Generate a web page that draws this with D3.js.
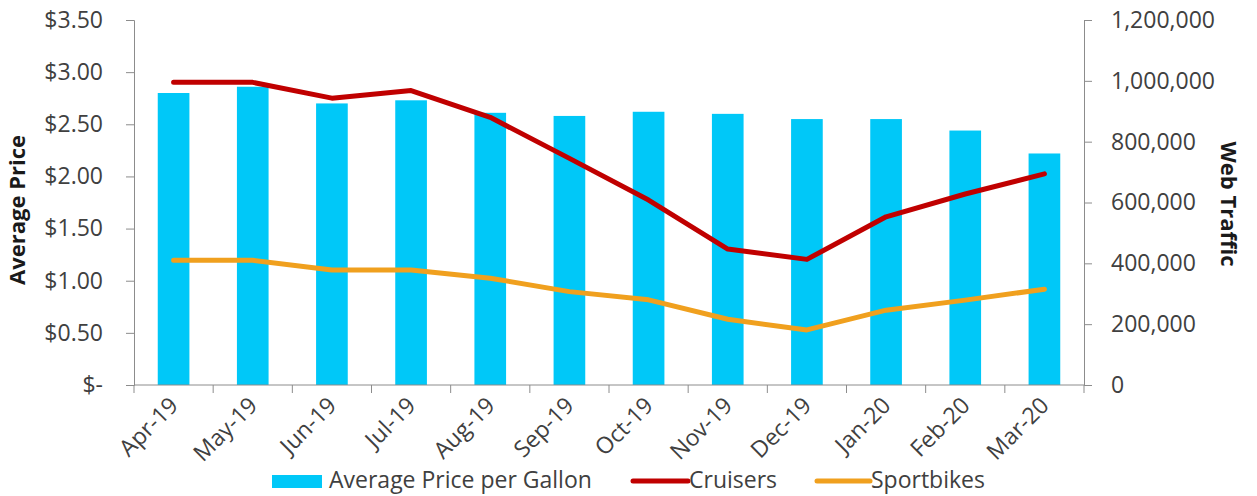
<!DOCTYPE html>
<html><head><meta charset="utf-8">
<script src="https://cdn.jsdelivr.net/npm/d3@7"></script>
<style>body{margin:0;background:#fff;} text{font-family:"Open Sans",Lato,"Liberation Sans",sans-serif;}</style>
</head><body>
<svg id="c" width="1257" height="496"></svg>
<script>
const months = ["Apr-19","May-19","Jun-19","Jul-19","Aug-19","Sep-19","Oct-19","Nov-19","Dec-19","Jan-20","Feb-20","Mar-20"];
const avgPrice = [2.80,2.86,2.70,2.73,2.61,2.58,2.62,2.60,2.55,2.55,2.44,2.22];
const cruisers = [995000,995000,943000,968000,880000,745000,608000,447000,413000,553000,628000,694000];
const sportbikes = [410000,410000,378000,378000,351000,307000,280000,216000,181000,246000,279000,315000];
const priceTicks = [0,0.5,1,1.5,2,2.5,3,3.5];
const trafficTicks = [0,200000,400000,600000,800000,1000000,1200000];
const legendLabels = ["Average Price per Gallon","Cruisers","Sportbikes"];

const colors = {bar:"#00c8f8", cru:"#c00000", spo:"#f0a01e", axis:"#8c8c8c", text:"#404040"};
const svg = d3.select("#c");
const L=134, R=1084, T=20, B=385;
const FS = "23px";

const x = d3.scaleBand().domain(months).range([L,R]).paddingInner(0.6).paddingOuter(0.3);
const yL = d3.scaleLinear().domain([0,3.5]).range([B,T]);
const yR = d3.scaleLinear().domain([0,1200000]).range([B,T]);

// bars
svg.append("g").selectAll("rect").data(months).join("rect")
  .attr("x",d=>x(d)).attr("width",x.bandwidth())
  .attr("y",(d,i)=>yL(avgPrice[i])).attr("height",(d,i)=>B-yL(avgPrice[i]))
  .attr("fill",colors.bar);

// lines
const line = d3.line().x((d,i)=>x(months[i])+x.bandwidth()/2).y(d=>yR(d));
svg.append("path").datum(sportbikes).attr("d",line).attr("fill","none")
  .attr("stroke",colors.spo).attr("stroke-width",5).attr("stroke-linejoin","round").attr("stroke-linecap","round");
svg.append("path").datum(cruisers).attr("d",line).attr("fill","none")
  .attr("stroke",colors.cru).attr("stroke-width",5).attr("stroke-linejoin","round").attr("stroke-linecap","round");

// left axis
const fmtPrice = v => v===0 ? "$-" : "$" + d3.format(".2f")(v);
const gL = svg.append("g").attr("transform",`translate(${L},0)`)
  .call(d3.axisLeft(yL).tickValues(priceTicks).tickFormat(fmtPrice).tickSize(8).tickPadding(23));
// right axis
const gR = svg.append("g").attr("transform",`translate(${R},0)`)
  .call(d3.axisRight(yR).tickValues(trafficTicks).tickFormat(d3.format(",")).tickSize(8).tickPadding(19));
// bottom axis (labels)
const gB = svg.append("g").attr("transform",`translate(0,${B})`)
  .call(d3.axisBottom(x).tickSize(0).tickPadding(0));
gB.select(".domain").remove();
gB.selectAll(".tick text").attr("y",0).attr("dy",0)
  .attr("transform","translate(6,22) rotate(-45)").attr("text-anchor","end");
// x tick marks at band boundaries
svg.append("line").attr("x1",L).attr("x2",R).attr("y1",B).attr("y2",B).attr("stroke",colors.axis);
svg.append("g").selectAll("line").data(d3.range(months.length+1)).join("line")
  .attr("x1",i=>L+i*x.step()).attr("x2",i=>L+i*x.step()).attr("y1",B).attr("y2",B+8).attr("stroke",colors.axis);

[gL,gR,gB].forEach(g=>{
  g.selectAll(".domain,.tick line").attr("stroke",colors.axis);
  g.selectAll(".tick text").attr("fill",colors.text).style("font-size",FS);
});

// axis titles
svg.append("text").attr("transform",`translate(25,210) rotate(-90)`).attr("text-anchor","middle")
  .attr("font-weight","bold").style("font-size","22px").attr("fill","#1a1a1a").text("Average Price");
svg.append("text").attr("transform",`translate(1221,204) rotate(90)`).attr("text-anchor","middle")
  .attr("font-weight","bold").style("font-size","22px").attr("fill","#1a1a1a").text("Web Traffic");

// legend
const lg = svg.append("g").attr("transform","translate(0,481)");
const items = [
  {x:272, w:50, type:"rect", c:colors.bar, label:legendLabels[0], tx:329},
  {x:633, w:55, type:"line", c:colors.cru, label:legendLabels[1], tx:689},
  {x:817, w:53, type:"line", c:colors.spo, label:legendLabels[2], tx:871}
];
items.forEach(it=>{
  if(it.type==="rect") lg.append("rect").attr("x",it.x).attr("y",-6).attr("width",it.w).attr("height",13).attr("fill",it.c);
  else lg.append("line").attr("x1",it.x).attr("x2",it.x+it.w).attr("stroke",it.c).attr("stroke-width",5).attr("stroke-linecap","round");
  lg.append("text").attr("x",it.tx).attr("y",7)
    .style("font-size",FS).attr("fill",colors.text).text(it.label);
});
</script>
</body></html>
